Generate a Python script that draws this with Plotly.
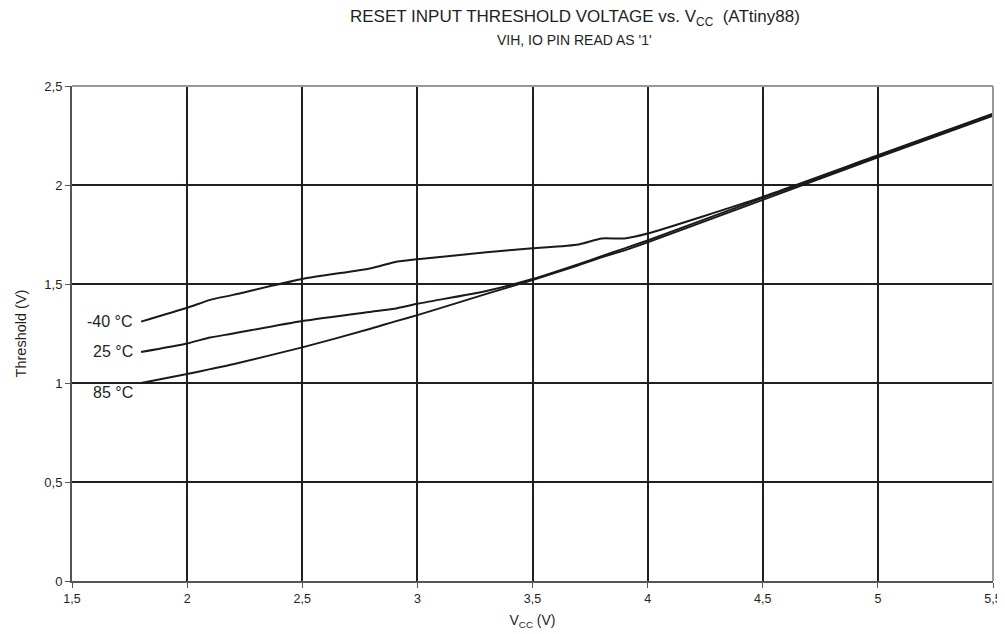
import plotly.graph_objects as go

vcc = [1.8, 2.0, 2.1, 2.2, 2.5, 2.8, 2.9, 3.0, 3.3, 3.5, 3.7, 3.8, 3.9, 4.0, 4.5, 5.0, 5.5]
t_m40 = [1.31, 1.38, 1.42, 1.445, 1.525, 1.58, 1.61, 1.625, 1.66, 1.68, 1.70, 1.73, 1.73, 1.755, 1.94, 2.15, 2.36]
t_25 = [1.157, 1.20, 1.23, 1.25, 1.313, 1.36, 1.375, 1.40, 1.465, 1.525, 1.60, 1.64, 1.68, 1.72, 1.935, 2.145, 2.355]
t_85 = [1.0, 1.045, 1.07, 1.095, 1.18, 1.275, 1.31, 1.343, 1.45, 1.52, 1.595, 1.635, 1.67, 1.71, 1.925, 2.14, 2.35]
series = [("-40 °C", t_m40), ("25 °C", t_25), ("85 °C", t_85)]
label_y = [1.31, 1.157, 0.95]

x_ticks = [1.5, 2, 2.5, 3, 3.5, 4, 4.5, 5, 5.5]
y_ticks = [0, 0.5, 1, 1.5, 2, 2.5]

FONT = "Liberation Sans, Arial, sans-serif"
GRID = "#231f20"

fig = go.Figure()
for name, ys in series:
    fig.add_trace(go.Scatter(x=vcc, y=ys, mode="lines", name=name,
                             line=dict(color="#1a1a1a", width=2, shape="spline", smoothing=0.6)))

for (name, ys), ly in zip(series, label_y):
    fig.add_annotation(x=1.775, y=ly, xref="x", yref="y", text=name, showarrow=False,
                       xanchor="right", yanchor="middle", font=dict(size=16, color="#231f20", family=FONT))

fig.add_annotation(x=0.546, y=1.137, xref="paper", yref="paper", showarrow=False,
                   xanchor="center", yanchor="middle",
                   text="RESET INPUT THRESHOLD VOLTAGE vs. V<sub>CC</sub>  (ATtiny88)",
                   font=dict(size=17, color="#231f20", family=FONT))
fig.add_annotation(x=0.546, y=1.093, xref="paper", yref="paper", showarrow=False,
                   xanchor="center", yanchor="middle",
                   text="VIH, IO PIN READ AS '1'",
                   font=dict(size=14, color="#231f20", family=FONT))

# frame top/right (lighter)
fig.add_shape(type="line", xref="paper", yref="paper", x0=0, x1=1, y0=1, y1=1,
              line=dict(color="#999999", width=2))
fig.add_shape(type="line", xref="paper", yref="paper", x0=1, x1=1, y0=0, y1=1,
              line=dict(color="#999999", width=2))

# page body has an 8px margin: offset margins so the plot area lands where the reference has it
fig.update_layout(
    width=1005, height=634,
    margin=dict(l=64, r=20, t=78, b=61),
    paper_bgcolor="white", plot_bgcolor="white",
    showlegend=False,
    separators=",.",
    font=dict(family=FONT, color="#231f20", size=12),
    xaxis=dict(range=[1.5, 5.5], tickvals=x_ticks, showgrid=True, gridcolor=GRID, gridwidth=2,
               zeroline=False, showline=True, linecolor="#555555", linewidth=2,
               ticks="outside", ticklen=5, tickcolor="#555555",
               tickfont=dict(size=12.5), title=dict(text="V<sub>CC</sub> (V)", font=dict(size=14), standoff=10)),
    yaxis=dict(range=[0, 2.5], tickvals=y_ticks, showgrid=True, gridcolor=GRID, gridwidth=2,
               zeroline=False, showline=True, linecolor="#555555", linewidth=2,
               ticks="outside", ticklen=5, tickcolor="#555555",
               tickfont=dict(size=13), title=dict(text="Threshold (V)", font=dict(size=14.5), standoff=14)),
)

fig.write_html("out.html", config={"displayModeBar": False})
